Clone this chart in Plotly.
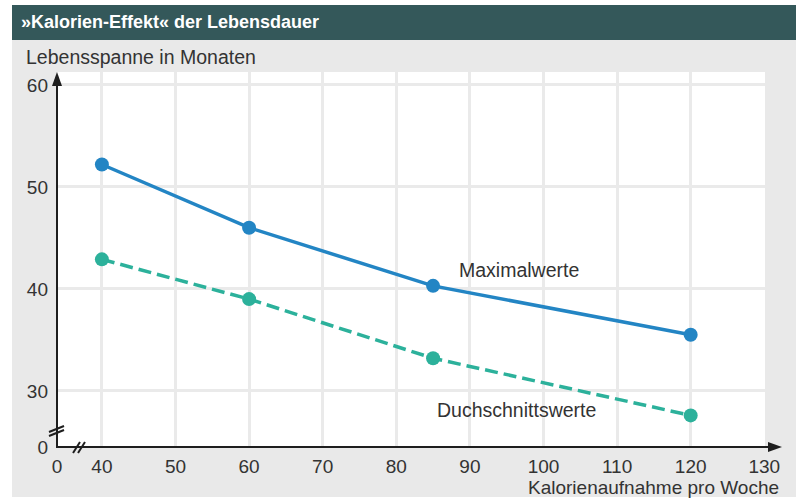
import plotly.graph_objects as go

# ---- data ----
calories = [40, 60, 85, 120]
max_values = [52.2, 46.0, 40.3, 35.5]
avg_values = [42.9, 39.0, 33.2, 27.6]

x_break_val = 33.9   # axis value shown as "0" (broken axis)
y_break_val = 24.5
x_tick_vals = [x_break_val, 40, 50, 60, 70, 80, 90, 100, 110, 120, 130]
x_tick_text = ["0", "40", "50", "60", "70", "80", "90", "100", "110", "120", "130"]
y_tick_vals = [y_break_val, 30, 40, 50, 60]
y_tick_text = ["0", "30", "40", "50", "60"]

title_text = "»Kalorien-Effekt« der Lebensdauer"
y_title = "Lebensspanne in Monaten"
x_title = "Kalorienaufnahme pro Woche"
label_max = "Maximalwerte"
label_avg = "Duchschnittswerte"

BLUE = "#2385c4"
TEAL = "#2cb19b"
HEADER = "#34585a"
CARD = "#e9e9e9"
GRID = "#eaeaea"
AXIS = "#1e1e1e"
TEXT = "#333333"
FONT = "Liberation Sans, Arial, sans-serif"

W, H = 803, 498
L, R, T, B = 57, 765, 72, 447


def px(x):
    return (x - L) / (R - L)


def py(y):
    return (B - y) / (B - T)


fig = go.Figure()
fig.add_trace(go.Scatter(
    x=calories, y=max_values, mode="lines+markers",
    line=dict(color=BLUE, width=3.5),
    marker=dict(color=BLUE, size=14), showlegend=False, cliponaxis=False))
fig.add_trace(go.Scatter(
    x=calories, y=avg_values, mode="lines+markers",
    line=dict(color=TEAL, width=3.5, dash="13px,6px"),
    marker=dict(color=TEAL, size=14), showlegend=False, cliponaxis=False))

shapes = [
    dict(type="rect", xref="paper", yref="paper", x0=px(12), x1=px(796), y0=py(497), y1=py(5),
         fillcolor=CARD, line=dict(width=0), layer="below"),
    dict(type="rect", xref="paper", yref="paper", x0=px(L), x1=px(R), y0=py(B), y1=py(T),
         fillcolor="white", line=dict(width=0), layer="below"),
    dict(type="rect", xref="paper", yref="paper", x0=px(12), x1=px(796), y0=py(40), y1=py(5),
         fillcolor=HEADER, line=dict(width=0), layer="above"),
    # y axis with arrow
    dict(type="line", xref="paper", yref="paper", x0=px(57), x1=px(57), y0=py(447), y1=py(84),
         line=dict(color=AXIS, width=2), layer="above"),
    dict(type="path", xref="paper", yref="paper",
         path=f"M {px(52)} {py(86)} L {px(62)} {py(86)} L {px(57)} {py(72)} Z",
         fillcolor=AXIS, line=dict(width=0), layer="above"),
    # x axis with arrow
    dict(type="line", xref="paper", yref="paper", x0=px(56), x1=px(770), y0=py(447), y1=py(447),
         line=dict(color=AXIS, width=2), layer="above"),
    dict(type="path", xref="paper", yref="paper",
         path=f"M {px(768)} {py(442)} L {px(768)} {py(452)} L {px(782)} {py(447)} Z",
         fillcolor=AXIS, line=dict(width=0), layer="above"),
]
# break marks
for (x0, y0, x1, y1) in [(49, 432, 64, 426), (49, 436, 64, 430)]:
    shapes.append(dict(type="line", xref="paper", yref="paper", x0=px(x0), x1=px(x1),
                       y0=py(y0), y1=py(y1), line=dict(color=AXIS, width=2), layer="above"))
for (x0, y0, x1, y1) in [(73, 453, 80, 442), (78, 453, 85, 442)]:
    shapes.append(dict(type="line", xref="paper", yref="paper", x0=px(x0), x1=px(x1),
                       y0=py(y0), y1=py(y1), line=dict(color=AXIS, width=2), layer="above"))

annotations = [
    dict(text=f"<b>{title_text}</b>", xref="paper", yref="paper", x=px(19), y=py(22),
         xanchor="left", yanchor="middle", showarrow=False,
         font=dict(family=FONT, size=18, color="white")),
    dict(text=y_title, xref="paper", yref="paper", x=px(24), y=py(57),
         xanchor="left", yanchor="middle", showarrow=False,
         font=dict(family=FONT, size=19.5, color=TEXT)),
    dict(text=x_title, xref="paper", yref="paper", x=px(781), y=py(487),
         xanchor="right", yanchor="middle", showarrow=False,
         font=dict(family=FONT, size=19, color=TEXT)),
    dict(text=label_max, x=96.7, y=41.9, xanchor="center", yanchor="middle", showarrow=False,
         font=dict(family=FONT, size=19.5, color=TEXT)),
    dict(text=label_avg, x=96.4, y=28.1, xanchor="center", yanchor="middle", showarrow=False,
         font=dict(family=FONT, size=19.5, color=TEXT)),
]

fig.update_layout(
    width=W, height=H,
    margin=dict(l=L, r=W - R, t=T, b=H - B, pad=0),
    paper_bgcolor="white", plot_bgcolor="white",
    shapes=shapes, annotations=annotations,
    font=dict(family=FONT, size=19, color=TEXT),
    hovermode=False,
    xaxis=dict(range=[x_break_val, 130.1], tickvals=x_tick_vals, ticktext=x_tick_text,
               showgrid=True, gridcolor=GRID, gridwidth=2.5, zeroline=False, showline=False,
               ticks="", ticklabelstandoff=6, tickfont=dict(family=FONT, size=19, color=TEXT)),
    yaxis=dict(range=[y_break_val, 61.27], tickvals=y_tick_vals, ticktext=y_tick_text,
               showgrid=True, gridcolor=GRID, gridwidth=2.5, zeroline=False, showline=False,
               ticks="", ticklabelstandoff=8, tickfont=dict(family=FONT, size=19, color=TEXT)),
)

fig.write_html("out.html", config={"displayModeBar": False},
               post_script="document.body.style.margin='0';document.body.style.overflow='hidden';")
